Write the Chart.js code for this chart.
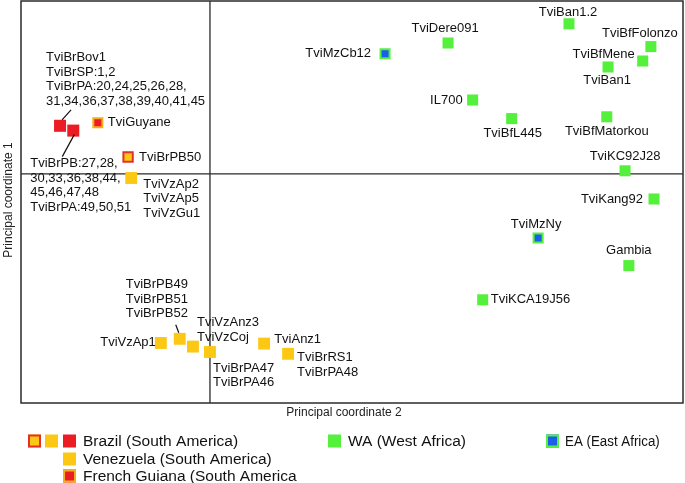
<!DOCTYPE html>
<html>
<head>
<meta charset="utf-8">
<script src="https://cdn.jsdelivr.net/npm/chart.js@4"></script>
<style>
  html, body { margin: 0; padding: 0; background: #fff; }
  #wrap { position: relative; width: 685px; height: 483px; }
</style>
</head>
<body>
<div id="wrap"><canvas id="pcoa"></canvas></div>
<script>
// coordinates (x = principal coordinate 2, y = principal coordinate 1)
const brazilRedX = [-0.238, -0.217];
const brazilRedY = [0.080, 0.072];
const brazilRedNames = [
  ['TviBrBov1', 'TviBrSP:1,2', 'TviBrPA:20,24,25,26,28,', '31,34,36,37,38,39,40,41,45'],
  ['TviBrPB:27,28,', '30,33,36,38,44,', '45,46,47,48', 'TviBrPA:49,50,51']
];

const brazilRingX = [-0.130];
const brazilRingY = [0.028];
const brazilRingNames = [['TviBrPB50']];

const brazilYellowX = [-0.048, 0.000, 0.124];
const brazilYellowY = [-0.275, -0.297, -0.300];
const brazilYellowNames = [
  ['TviBrPB49', 'TviBrPB51', 'TviBrPB52'],
  ['TviBrPA47', 'TviBrPA46'],
  ['TviBrRS1', 'TviBrPA48']
];

const venezuelaX = [-0.125, -0.078, -0.027, 0.086];
const venezuelaY = [-0.007, -0.282, -0.288, -0.283];
const venezuelaNames = [
  ['TviVzAp2', 'TviVzAp5', 'TviVzGu1'],
  ['TviVzAp1'],
  ['TviVzAnz3', 'TviVzCoj'],
  ['TviAnz1']
];

const guianaX = [-0.178];
const guianaY = [0.085];
const guianaNames = [['TviGuyane']];

const waX = [0.570, 0.378, 0.700, 0.687, 0.632, 0.417, 0.479, 0.630, 0.659, 0.705, 0.665, 0.433];
const waY = [0.250, 0.218, 0.212, 0.188, 0.178, 0.123, 0.092, 0.095, 0.005, -0.042, -0.153, -0.210];
const waNames = [
  ['TviBan1.2'], ['TviDere091'], ['TviBfFolonzo'], ['TviBfMene'], ['TviBan1'], ['IL700'],
  ['TviBfL445'], ['TviBfMatorkou'], ['TviKC92J28'], ['TviKang92'], ['Gambia'], ['TviKCA19J56']
];

const eaX = [0.278, 0.521];
const eaY = [0.200, -0.107];
const eaNames = [['TviMzCb12'], ['TviMzNy']];

// where each label sits relative to its marker (px), plus leader lines
const labelPlace = {
  'TviBrBov1':     { dx: -14, dy: -68, align: 'left', lead: [11, -16, 2, -6] },
  'TviBrPB:27,28,': { dx: -43, dy: 33, align: 'left', lead: [1, 4, -11, 26] },
  'TviGuyane':     { dx: 10, dy: 0, align: 'left' },
  'TviBrPB50':     { dx: 11, dy: 0, align: 'left' },
  'TviVzAp2':      { dx: 12, dy: 6, align: 'left' },
  'TviVzAp1':      { dx: -5, dy: -1, align: 'right' },
  'TviBrPB49':     { dx: -54, dy: -54, align: 'left', lead: [-4, -14, -1, -6] },
  'TviVzAnz3':     { dx: 4, dy: -24, align: 'left' },
  'TviBrPA47':     { dx: 3, dy: 16, align: 'left' },
  'TviAnz1':       { dx: 10, dy: -4, align: 'left' },
  'TviBrRS1':      { dx: 9, dy: 4, align: 'left' },
  'TviBan1.2':     { dx: -1, dy: -11, align: 'center' },
  'TviDere091':    { dx: -3, dy: -15, align: 'center' },
  'TviBfFolonzo':  { dx: -11, dy: -13, align: 'center' },
  'TviBfMene':     { dx: -8, dy: -7, align: 'right' },
  'TviBan1':       { dx: -1, dy: 13, align: 'center' },
  'IL700':         { dx: -10, dy: 0, align: 'right' },
  'TviBfL445':     { dx: 1, dy: 15, align: 'center' },
  'TviBfMatorkou': { dx: 0, dy: 15, align: 'center' },
  'TviKC92J28':    { dx: 0, dy: -14, align: 'center' },
  'TviKang92':     { dx: -11, dy: 0, align: 'right' },
  'Gambia':        { dx: 0, dy: -15, align: 'center' },
  'TviKCA19J56':   { dx: 8, dy: 0, align: 'left' },
  'TviMzCb12':     { dx: -14, dy: 0, align: 'right' },
  'TviMzNy':       { dx: -2, dy: -14, align: 'center' }
};

const RED = '#ec1c24';
const YELLOW = '#fcc814';
const GREEN = '#55f03c';
const BLUE = '#1a5fec';
const ORANGE = '#f6ad1c';
const FONT = "'Liberation Sans', Arial, Helvetica, sans-serif";

function pts(xs, ys) {
  return xs.map((x, i) => ({ x: x, y: ys[i] }));
}

const groups = [
  { data: pts(waX, waY), names: waNames, bg: GREEN, border: GREEN, bw: 0, r: 7.8 },
  { data: pts(eaX, eaY), names: eaNames, bg: BLUE, border: GREEN, bw: 2, r: 6.4 },
  { data: pts(venezuelaX, venezuelaY), names: venezuelaNames, bg: YELLOW, border: YELLOW, bw: 0, r: 8.4 },
  { data: pts(brazilYellowX, brazilYellowY), names: brazilYellowNames, bg: YELLOW, border: YELLOW, bw: 0, r: 8.4 },
  { data: pts(brazilRedX, brazilRedY), names: brazilRedNames, bg: RED, border: RED, bw: 0, r: 8.5 },
  { data: pts(brazilRingX, brazilRingY), names: brazilRingNames, bg: YELLOW, border: '#e2302a', bw: 2, r: 6.6 },
  { data: pts(guianaX, guianaY), names: guianaNames, bg: RED, border: ORANGE, bw: 2, r: 6.4 }
];

const decor = {
  id: 'decor',
  beforeDatasetsDraw(chart) {
    const { ctx, chartArea: a, scales } = chart;
    const x0 = scales.x.getPixelForValue(0);
    const y0 = scales.y.getPixelForValue(0);
    ctx.save();
    ctx.strokeStyle = '#2b2b2b';
    ctx.lineWidth = 1.5;
    ctx.strokeRect(a.left, a.top, a.right - a.left, a.bottom - a.top);
    ctx.lineWidth = 1.3;
    ctx.beginPath();
    ctx.moveTo(x0, a.top); ctx.lineTo(x0, a.bottom);
    ctx.moveTo(a.left, y0); ctx.lineTo(a.right, y0);
    ctx.stroke();
    ctx.restore();
  },
  afterDatasetsDraw(chart) {
    const ctx = chart.ctx;
    ctx.save();
    ctx.font = '13px ' + FONT;
    ctx.fillStyle = '#111';
    ctx.textBaseline = 'middle';
    ctx.strokeStyle = '#111';
    ctx.lineWidth = 1.2;
    groups.forEach((g, di) => {
      const meta = chart.getDatasetMeta(di);
      meta.data.forEach((el, j) => {
        const lines = g.names[j];
        const p = labelPlace[lines[0]];
        if (!p) return;
        ctx.textAlign = p.align;
        lines.forEach((t, k) => ctx.fillText(t, el.x + p.dx, el.y + p.dy + k * 14.5));
        if (p.lead) {
          ctx.beginPath();
          ctx.moveTo(el.x + p.lead[0], el.y + p.lead[1]);
          ctx.lineTo(el.x + p.lead[2], el.y + p.lead[3]);
          ctx.stroke();
        }
      });
    });

    // axis titles
    ctx.font = '12px ' + FONT;
    ctx.fillStyle = '#222';
    ctx.textAlign = 'center';
    ctx.fillText('Principal coordinate 2', 344, 413);
    ctx.save();
    ctx.translate(9, 200);
    ctx.rotate(-Math.PI / 2);
    ctx.fillText('Principal coordinate 1', 0, 0);
    ctx.restore();

    // legend
    function box(x, y, fill, stroke) {
      ctx.fillStyle = fill;
      ctx.fillRect(x, y - 6.5, 13, 13);
      if (stroke) {
        ctx.strokeStyle = stroke;
        ctx.lineWidth = 2;
        ctx.strokeRect(x + 1, y - 5.5, 11, 11);
      }
    }
    box(28, 441, YELLOW, '#e2302a');
    box(45, 441, YELLOW);
    box(63, 441, RED);
    box(63, 459, YELLOW);
    box(63, 476, RED, ORANGE);
    box(328, 441, GREEN);
    box(546, 441, BLUE, GREEN);
    ctx.fillStyle = '#111';
    ctx.textAlign = 'left';
    ctx.font = '15.5px ' + FONT;
    ctx.fillText('Brazil (South America)', 83, 442);
    ctx.fillText('Venezuela (South America)', 83, 460);
    ctx.fillText('French Guiana (South America', 83, 477);
    ctx.fillText('WA (West Africa)', 348, 442);
    ctx.save();
    ctx.translate(565, 442);
    ctx.scale(0.86, 1);
    ctx.font = '15.5px ' + FONT;
    ctx.fillText('EA (East Africa)', 0, 0);
    ctx.restore();
    ctx.restore();
  }
};

new Chart(document.getElementById('pcoa'), {
  type: 'scatter',
  data: {
    datasets: groups.map(g => ({
      data: g.data,
      pointStyle: 'rect',
      pointRadius: g.r,
      pointHoverRadius: g.r,
      pointBackgroundColor: g.bg,
      pointBorderColor: g.border,
      pointBorderWidth: g.bw
    }))
  },
  options: {
    responsive: true,
    maintainAspectRatio: false,
    animation: false,
    layout: { autoPadding: false, padding: { left: 21, right: 2, top: 1, bottom: 80 } },
    scales: {
      x: { type: 'linear', min: -0.3, max: 0.751, display: false },
      y: { type: 'linear', min: -0.382, max: 0.288, display: false }
    },
    plugins: { legend: { display: false }, tooltip: { enabled: false } }
  },
  plugins: [decor]
});
</script>
</body>
</html>
